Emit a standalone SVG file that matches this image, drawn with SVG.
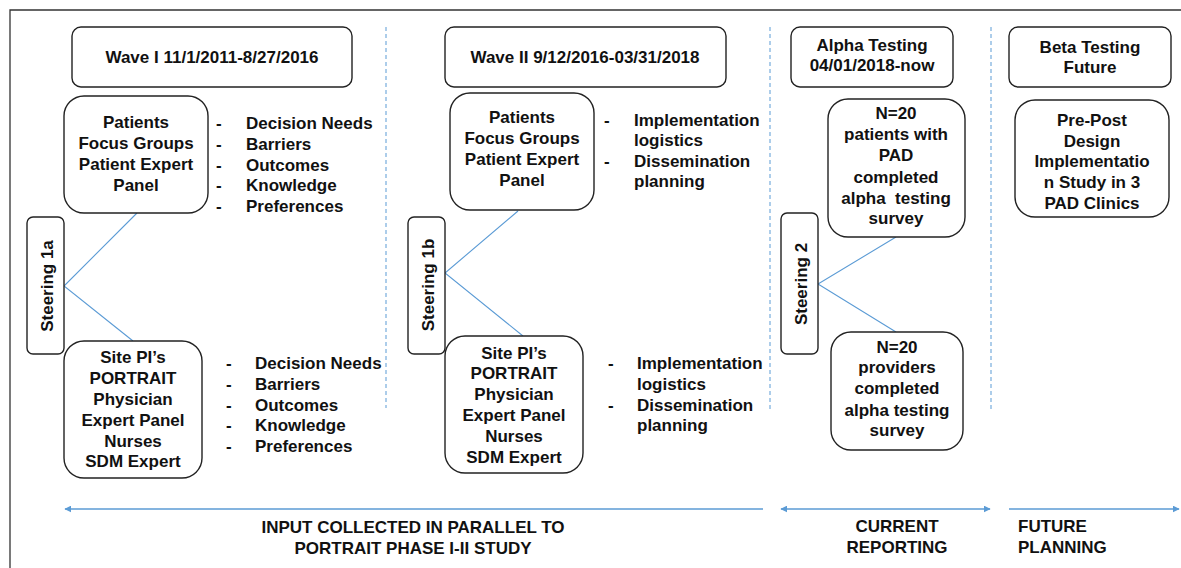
<svg xmlns="http://www.w3.org/2000/svg" width="1181" height="568" viewBox="0 0 1181 568">
  <style>
    text { font-family: "Liberation Sans", Arial, Helvetica, sans-serif; font-weight: bold; font-size: 17px; fill: #111; }
    .c { text-anchor: middle; }
    .box { fill: #fff; stroke: #222; stroke-width: 1.4; }
    .link { stroke: #5b9bd5; stroke-width: 1.1; fill: none; }
    .sep { stroke: #5b9bd5; stroke-width: 1; stroke-dasharray: 4 3; fill: none; }
    .span { stroke: #5b9bd5; stroke-width: 1.3; fill: none; }
  </style>
  <defs>
    <marker id="head" viewBox="0 0 10 10" refX="9" refY="5" markerWidth="7" markerHeight="7" markerUnits="userSpaceOnUse" orient="auto-start-reverse">
      <path d="M0,0 L10,5 L0,10 z" fill="#5b9bd5"/>
    </marker>
  </defs>

  <rect width="1181" height="568" fill="#fff"/>
  <!-- frame -->
  <path d="M10,568 V10 H1181" fill="none" stroke="#333" stroke-width="1.3"/>

  <!-- column separators -->
  <g id="separators">
    <line class="sep" x1="386" y1="27" x2="386" y2="408"/>
    <line class="sep" x1="770" y1="27" x2="770" y2="410"/>
    <line class="sep" x1="991" y1="27" x2="991" y2="410"/>
  </g>

  <!-- connectors -->
  <g id="connectors">
    <polyline class="link" points="137,213 64,286 133,341"/>
    <polyline class="link" points="518,211 445,273 523,336"/>
    <polyline class="link" points="896,237 818,284 896,332"/>
    <line class="span" x1="65" y1="509" x2="763" y2="509" marker-start="url(#head)"/>
    <line class="span" x1="781" y1="509" x2="990" y2="509" marker-start="url(#head)" marker-end="url(#head)"/>
    <line class="span" x1="1009" y1="509" x2="1179" y2="509" marker-end="url(#head)"/>
  </g>

  <!-- Wave I -->
  <g id="wave1">
    <rect class="box" x="72" y="27" width="280" height="60" rx="9"/>
    <text class="c" x="212" y="63">Wave I 11/1/2011-8/27/2016</text>
  </g>
  <g id="patients1">
    <rect class="box" x="64" y="96" width="144" height="117" rx="20"/>
    <text class="c" x="136" y="128">Patients</text>
    <text class="c" x="136" y="149">Focus Groups</text>
    <text class="c" x="136" y="170">Patient Expert</text>
    <text class="c" x="136" y="191">Panel</text>
  </g>
  <g id="patients1-topics">
    <text x="216" y="129">-</text><text x="246" y="129">Decision Needs</text>
    <text x="216" y="150">-</text><text x="246" y="150">Barriers</text>
    <text x="216" y="171">-</text><text x="246" y="171">Outcomes</text>
    <text x="216" y="191">-</text><text x="246" y="191">Knowledge</text>
    <text x="216" y="212">-</text><text x="246" y="212">Preferences</text>
  </g>
  <g id="steering1a">
    <rect class="box" x="27" y="217" width="37" height="137" rx="6"/>
    <text class="c" transform="translate(52.5,286) rotate(-90)">Steering 1a</text>
  </g>
  <g id="sitepi1">
    <rect class="box" x="64" y="341" width="138" height="137" rx="20"/>
    <text class="c" x="133" y="363">Site PI’s</text>
    <text class="c" x="133" y="384">PORTRAIT</text>
    <text class="c" x="133" y="405">Physician</text>
    <text class="c" x="133" y="426">Expert Panel</text>
    <text class="c" x="133" y="447">Nurses</text>
    <text class="c" x="133" y="467">SDM Expert</text>
  </g>
  <g id="sitepi1-topics">
    <text x="226" y="369">-</text><text x="255" y="369">Decision Needs</text>
    <text x="226" y="390">-</text><text x="255" y="390">Barriers</text>
    <text x="226" y="411">-</text><text x="255" y="411">Outcomes</text>
    <text x="226" y="431">-</text><text x="255" y="431">Knowledge</text>
    <text x="226" y="452">-</text><text x="255" y="452">Preferences</text>
  </g>

  <!-- Wave II -->
  <g id="wave2">
    <rect class="box" x="445" y="27" width="281" height="60" rx="9"/>
    <text class="c" x="585" y="63">Wave II 9/12/2016-03/31/2018</text>
  </g>
  <g id="patients2">
    <rect class="box" x="450" y="93" width="144" height="117" rx="20"/>
    <text class="c" x="522" y="123">Patients</text>
    <text class="c" x="522" y="144">Focus Groups</text>
    <text class="c" x="522" y="165">Patient Expert</text>
    <text class="c" x="522" y="186">Panel</text>
  </g>
  <g id="patients2-topics">
    <text x="604" y="126">-</text><text x="634" y="126">Implementation</text>
    <text x="634" y="146">logistics</text>
    <text x="604" y="167">-</text><text x="634" y="167">Dissemination</text>
    <text x="634" y="187">planning</text>
  </g>
  <g id="steering1b">
    <rect class="box" x="408" y="217" width="37" height="137" rx="6"/>
    <text class="c" transform="translate(434,285) rotate(-90)">Steering 1b</text>
  </g>
  <g id="sitepi2">
    <rect class="box" x="445" y="336" width="138" height="137" rx="20"/>
    <text class="c" x="514" y="359">Site PI’s</text>
    <text class="c" x="514" y="379">PORTRAIT</text>
    <text class="c" x="514" y="400">Physician</text>
    <text class="c" x="514" y="421">Expert Panel</text>
    <text class="c" x="514" y="442">Nurses</text>
    <text class="c" x="514" y="463">SDM Expert</text>
  </g>
  <g id="sitepi2-topics">
    <text x="608" y="369">-</text><text x="637" y="369">Implementation</text>
    <text x="637" y="390">logistics</text>
    <text x="608" y="411">-</text><text x="637" y="411">Dissemination</text>
    <text x="637" y="431">planning</text>
  </g>

  <!-- Alpha testing -->
  <g id="alpha">
    <rect class="box" x="791" y="27" width="162" height="60" rx="9"/>
    <text class="c" x="872" y="51">Alpha Testing</text>
    <text class="c" x="872" y="71">04/01/2018-now</text>
  </g>
  <g id="alpha-patients">
    <rect class="box" x="828" y="99" width="137" height="138" rx="20"/>
    <text class="c" x="896" y="119">N=20</text>
    <text class="c" x="896" y="140">patients with</text>
    <text class="c" x="896" y="161">PAD</text>
    <text class="c" x="896" y="183">completed</text>
    <text class="c" x="896" y="204" style="white-space:pre">alpha  testing</text>
    <text class="c" x="896" y="224">survey</text>
  </g>
  <g id="steering2">
    <rect class="box" x="781" y="213" width="37" height="141" rx="6"/>
    <text class="c" transform="translate(807,284) rotate(-90)">Steering 2</text>
  </g>
  <g id="alpha-providers">
    <rect class="box" x="831" y="332" width="132" height="118" rx="20"/>
    <text class="c" x="897" y="353">N=20</text>
    <text class="c" x="897" y="373">providers</text>
    <text class="c" x="897" y="394">completed</text>
    <text class="c" x="897" y="416">alpha testing</text>
    <text class="c" x="897" y="436">survey</text>
  </g>

  <!-- Beta testing -->
  <g id="beta">
    <rect class="box" x="1009" y="27" width="162" height="60" rx="9"/>
    <text class="c" x="1090" y="53">Beta Testing</text>
    <text class="c" x="1090" y="73">Future</text>
  </g>
  <g id="beta-study">
    <rect class="box" x="1015" y="100" width="154" height="117" rx="20"/>
    <text class="c" x="1092" y="126">Pre-Post</text>
    <text class="c" x="1092" y="147">Design</text>
    <text class="c" x="1092" y="167">Implementatio</text>
    <text class="c" x="1092" y="188">n Study in 3</text>
    <text class="c" x="1092" y="209">PAD Clinics</text>
  </g>

  <!-- timeline labels -->
  <g id="timeline-labels">
    <text class="c" x="413" y="533">INPUT COLLECTED IN PARALLEL TO</text>
    <text class="c" x="413" y="554">PORTRAIT PHASE I-II STUDY</text>
    <text class="c" x="897" y="532">CURRENT</text>
    <text class="c" x="897" y="553">REPORTING</text>
    <text x="1018" y="532">FUTURE</text>
    <text x="1018" y="553">PLANNING</text>
  </g>
</svg>
